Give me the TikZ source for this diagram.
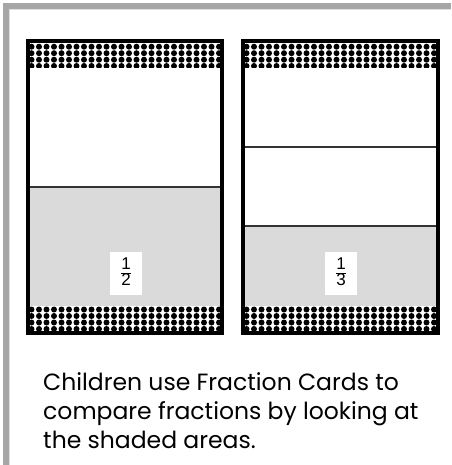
\documentclass[tikz,border=0pt]{standalone}
\usepackage{fontspec}
\setmainfont{Poppins}
\newfontfamily\fracfont{Liberation Sans}
\definecolor{framegray}{HTML}{A6A6A6}
\definecolor{framelight}{HTML}{DEDEDE}
\definecolor{shadedarea}{HTML}{DADADA}

\begin{document}
\begin{tikzpicture}[
  x=1pt,
  y=-1pt,
  line join=miter,
  card/.style={draw=black,line width=3.6pt},
  divider/.style={draw=black!80,line width=1.1pt},
  shaded/.style={fill=shadedarea,draw=none},
  dot/.style={fill=black},
  fraclabel/.style={fill=white,inner sep=0pt,minimum width=32pt,minimum height=43pt,
    font=\fracfont\fontsize{17}{18}\selectfont},
  caption/.style={anchor=north west,align=left,inner sep=0pt,
    font=\fontsize{23.5}{29}\selectfont}
]
  \useasboundingbox (0,0) rectangle (451,465);

  % Grey page frame, only top and left edges.
  \fill[framegray] (3,3) rectangle (451,9);
  \fill[framegray] (3,3) rectangle (9,465);
  \draw[framelight,line width=1pt] (9.5,465) -- (9.5,9.5) -- (451,9.5);

  % Card corners (centre of the thick outline).
  \coordinate (halfNW) at (28,41);
  \coordinate (halfSE) at (222,333);
  \coordinate (thirdNW) at (243,41);
  \coordinate (thirdSE) at (438,333);

  % Shaded part of each card.
  \path[shaded] (28,187) rectangle (222,306);
  \path[shaded] (243,226) rectangle (438,306);

  % Checkered bands at top and bottom of both cards.
  \begin{scope}
    \clip (28,41) rectangle (222,68) (28,306) rectangle (222,333)
          (243,41) rectangle (438,68) (243,306) rectangle (438,333);
    \foreach \cx in {28,243} {
      \foreach \i in {0,...,26} {
        \foreach \y in {46.7,53.2,59.7,66.0,309.5,316,322.5,329} {
          \fill[dot] (\cx+3.5+\i*7.5,\y) circle[radius=3.0];
        }
      }
    }
  \end{scope}

  % Lines between the equal parts.
  \draw[divider] (28,187) -- (222,187);
  \draw[divider] (243,147) -- (438,147);
  \draw[divider] (243,226) -- (438,226);

  % Card outlines.
  \draw[card] (halfNW) rectangle (halfSE);
  \draw[card] (thirdNW) rectangle (thirdSE);

  % Fraction labels.
  \node[fraclabel] (halflbl) at (126,273.5)
    {\renewcommand\arraystretch{0.78}\begin{tabular}{@{}c@{}}1\\\hline 2\end{tabular}};
  \node[fraclabel] (thirdlbl) at (341,273.5)
    {\renewcommand\arraystretch{0.78}\begin{tabular}{@{}c@{}}1\\\hline 3\end{tabular}};

  \node[caption] (note) at (43,372)
    {Children use Fraction Cards to\\compare fractions by looking at\\the shaded areas.};
\end{tikzpicture}
\end{document}
